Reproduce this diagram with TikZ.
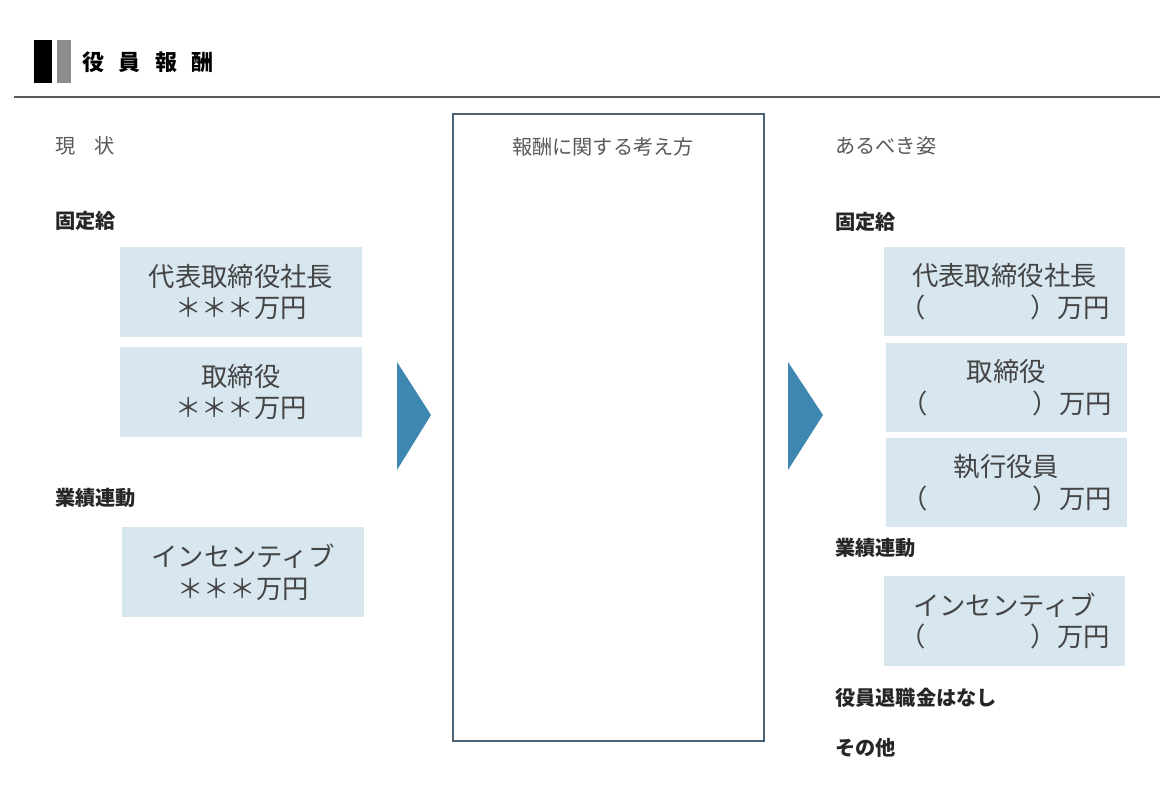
\documentclass[tikz,border=0pt]{standalone}
\usepackage{fontspec}
\setmainfont{Noto Sans CJK JP}
\usepackage{xcolor}
\definecolor{boxblue}{HTML}{D7E6EF}
\definecolor{arrowblue}{HTML}{3E87B1}
\definecolor{framegray}{HTML}{4B6275}
\definecolor{textgray}{HTML}{444444}

\begin{document}
\begin{tikzpicture}[x=0.02cm, y=-0.02cm,
    paybox/.style={fill=boxblue, minimum width=4.84cm, minimum height=1.8cm, align=center, text=textgray, font=\fontsize{15}{18}\selectfont},
    head/.style={anchor=west, inner sep=0, font=\fontsize{11.5}{13}\selectfont\bfseries, text=black!85},
    sub/.style={anchor=west, inner sep=0, font=\fontsize{11.5}{13}\selectfont, text=black!65}]
        \useasboundingbox (0, 0) rectangle (1172, 800);

        % title
        \fill[black] (34, 40) rectangle (52, 83);
        \fill[black!45] (57, 40) rectangle (71, 83);
        \node[anchor=west, inner sep=0, font=\fontsize{12.5}{14}\selectfont\bfseries] (title) at (82, 62) {役\hspace{0.29cm}員\hspace{0.29cm}報\hspace{0.29cm}酬};
        \draw[black!65, line width=1.1pt] (14, 97) -- (1160, 97);

        % left column
        \node[sub] (now) at (55, 146) {現\hspace{0.38cm}状};
        \node[head] (fixL) at (55, 221) {固定給};
        \node[paybox] (ceoL) at (241, 292) {代表取締役社長\\＊＊＊万円};
        \node[paybox] (dirL) at (241, 392) {取締役\\＊＊＊万円};
        \node[head] (perfL) at (55, 498) {業績連動};
        \node[paybox] (incL) at (243, 572) {インセンティブ\\＊＊＊万円};

        % middle
        \node[draw=framegray, line width=1.1pt, minimum width=6.22cm, minimum height=12.54cm] (think) at (608.5, 427.5) {};
        \node[inner sep=0, font=\fontsize{11.5}{13}\selectfont, text=black!65] (thinkT) at (603, 147) {報酬に関する考え方};
        \fill[arrowblue] (397, 362) -- (431, 415) -- (397, 470) -- cycle;
        \fill[arrowblue] (788, 362) -- (823, 415) -- (788, 470) -- cycle;

        % right column
        \node[sub] (goal) at (835, 146) {あるべき姿};
        \node[head] (fixR) at (835, 222) {固定給};
        \node[paybox] (ceoR) at (1004.5, 291.5) {代表取締役社長\\（　　　　）万円};
        \node[paybox] (dirR) at (1006.5, 387.5) {取締役\\（　　　　）万円};
        \node[paybox] (exeR) at (1006.5, 482.5) {執行役員\\（　　　　）万円};
        \node[head] (perfR) at (835, 548) {業績連動};
        \node[paybox] (incR) at (1004.5, 621) {インセンティブ\\（　　　　）万円};
        \node[head] (retR) at (835, 698) {役員退職金はなし};
        \node[head] (etcR) at (835, 748) {その他};
    \end{tikzpicture}
\end{document}
